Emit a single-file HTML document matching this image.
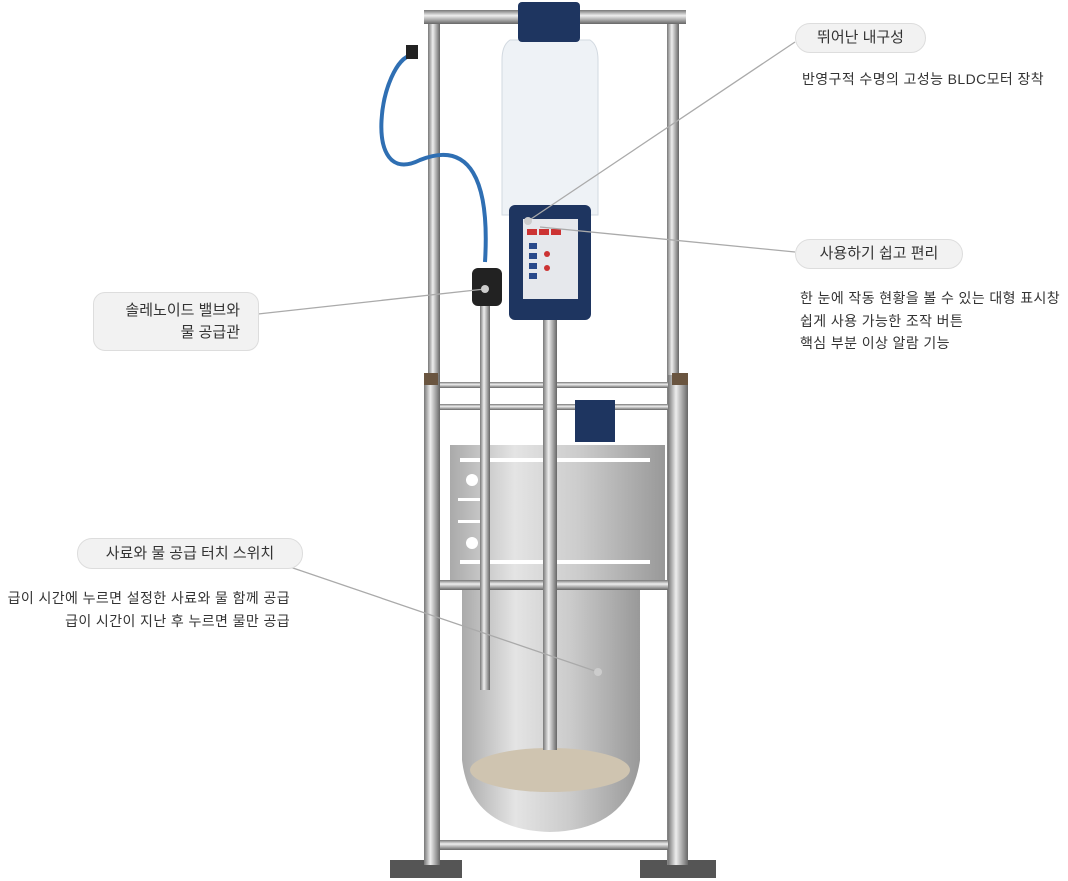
<!DOCTYPE html>
<html><head><meta charset="utf-8"><style>
body{margin:0;width:1068px;height:881px;background:#fff;position:relative;overflow:hidden;font-family:"Liberation Sans","Noto Sans CJK KR",sans-serif;color:#333}
.a{position:absolute}
.pill{position:absolute;background:#f2f2f2;border:1px solid #ddd;border-radius:15px;font-size:15px;color:#333;text-align:center;box-sizing:border-box;white-space:nowrap}
.t{position:absolute;font-size:14px;letter-spacing:0.4px;color:#333;line-height:22.5px;white-space:nowrap}
</style></head><body>
<svg class="a" style="left:0;top:0" width="1068" height="881">
<defs>
<linearGradient id="pole" x1="0" x2="1"><stop offset="0" stop-color="#777"/><stop offset=".4" stop-color="#eee"/><stop offset="1" stop-color="#666"/></linearGradient>
<linearGradient id="hor" x1="0" y1="0" x2="0" y2="1"><stop offset="0" stop-color="#777"/><stop offset=".4" stop-color="#eee"/><stop offset="1" stop-color="#666"/></linearGradient>
<linearGradient id="steel" x1="0" x2="1"><stop offset="0" stop-color="#aaa"/><stop offset=".3" stop-color="#e4e4e4"/><stop offset=".6" stop-color="#ccc"/><stop offset="1" stop-color="#999"/></linearGradient>
</defs>
<rect x="390" y="860" width="72" height="18" fill="#555"/>
<rect x="640" y="860" width="76" height="18" fill="#555"/>
<rect x="428" y="20" width="12" height="845" fill="url(#pole)"/>
<rect x="667" y="20" width="12" height="845" fill="url(#pole)"/>
<rect x="424" y="10" width="262" height="14" fill="url(#hor)"/>
<rect x="424" y="375" width="16" height="490" fill="url(#pole)"/>
<rect x="668" y="375" width="20" height="490" fill="url(#pole)"/>
<rect x="424" y="373" width="14" height="12" fill="#6a5540"/>
<rect x="672" y="373" width="16" height="12" fill="#6a5540"/>
<rect x="440" y="382" width="228" height="6" fill="url(#hor)"/>
<rect x="440" y="404" width="228" height="6" fill="url(#hor)"/>
<rect x="440" y="580" width="228" height="10" fill="url(#hor)"/>
<rect x="440" y="840" width="228" height="10" fill="url(#hor)"/>
<rect x="450" y="445" width="215" height="135" fill="url(#steel)"/>
<g fill="#fff">
<rect x="460" y="458" width="190" height="4" />
<rect x="460" y="560" width="190" height="4"/>
<circle cx="472" cy="480" r="6"/><circle cx="472" cy="543" r="6"/>
<rect x="458" y="498" width="24" height="3"/><rect x="458" y="520" width="24" height="3"/>
</g>
<path d="M462 590 L640 590 L640 760 Q630 830 550 832 Q470 830 462 760 Z" fill="url(#steel)"/>
<ellipse cx="550" cy="770" rx="80" ry="22" fill="#cfc4b0"/>
<rect x="480" y="300" width="10" height="390" fill="url(#pole)"/>
<rect x="543" y="310" width="14" height="440" fill="url(#pole)"/>
<rect x="575" y="400" width="40" height="42" fill="#1e3560"/>
<path d="M485 262 C490 180 470 140 420 160 C360 190 380 60 412 55" stroke="#2f6fb3" stroke-width="4" fill="none"/>
<rect x="406" y="45" width="12" height="14" fill="#222"/>
<rect x="472" y="268" width="30" height="38" rx="6" fill="#222"/>
<path d="M510 40 L590 40 Q598 45 598 60 L598 215 L502 215 L502 60 Q502 45 510 40Z" fill="#eef2f6" stroke="#d2d9e0"/>
<rect x="518" y="2" width="62" height="40" rx="4" fill="#1e3560"/>
<rect x="509" y="205" width="82" height="115" rx="6" fill="#1e3560"/>
<rect x="523" y="219" width="55" height="80" fill="#e6e8ec"/>
<g fill="#c33"><rect x="527" y="229" width="10" height="6"/><rect x="539" y="229" width="10" height="6"/><rect x="551" y="229" width="10" height="6"/><circle cx="547" cy="254" r="3"/><circle cx="547" cy="268" r="3"/></g>
<g fill="#2a4a8a"><rect x="529" y="243" width="8" height="6"/><rect x="529" y="253" width="8" height="6"/><rect x="529" y="263" width="8" height="6"/><rect x="529" y="273" width="8" height="6"/></g>
<g stroke="#aaa" stroke-width="1.3" fill="none">
<line x1="795" y1="42" x2="528" y2="221"/>
<line x1="795" y1="252" x2="540" y2="227"/>
<line x1="258" y1="314" x2="485" y2="289"/>
<line x1="290" y1="567" x2="598" y2="672"/>
</g>
<g fill="#ccc"><circle cx="528" cy="221" r="4"/><circle cx="485" cy="289" r="4"/><circle cx="598" cy="672" r="4"/></g>
</svg>
<div class="pill" style="left:795px;top:23px;width:131px;height:30px;line-height:28px">뛰어난 내구성</div>
<div class="t" style="left:802px;top:68px">반영구적 수명의 고성능 BLDC모터 장착</div>
<div class="pill" style="left:795px;top:239px;width:168px;height:30px;line-height:28px">사용하기 쉽고 편리</div>
<div class="t" style="left:800px;top:287px">한 눈에 작동 현황을 볼 수 있는 대형 표시창<br>쉽게 사용 가능한 조작 버튼<br>핵심 부분 이상 알람 기능</div>
<div class="pill" style="left:93px;top:292px;width:166px;height:59px;border-radius:12px;text-align:right;padding:7px 18px 0 0;line-height:22px">솔레노이드 밸브와<br>물 공급관</div>
<div class="pill" style="left:77px;top:538px;width:226px;height:31px;line-height:29px">사료와 물 공급 터치 스위치</div>
<div class="t" style="right:778px;top:587px;text-align:right">급이 시간에 누르면 설정한 사료와 물 함께 공급<br>급이 시간이 지난 후 누르면 물만 공급</div>
</body></html>
